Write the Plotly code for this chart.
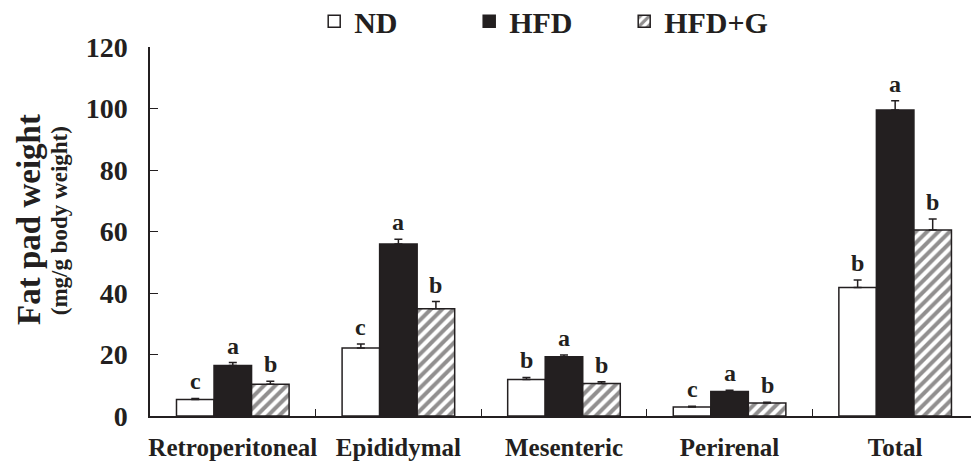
import plotly.graph_objects as go

categories = ["Retroperitoneal", "Epididymal", "Mesenteric", "Perirenal", "Total"]
series_names = ["ND", "HFD", "HFD+G"]
nd_values = [5.4, 22.1, 11.9, 2.9, 41.8]
nd_errors = [0.3, 1.3, 0.65, 0.3, 2.4]
hfd_values = [16.4, 55.9, 19.3, 8.0, 99.5]
hfd_errors = [1.0, 1.6, 0.5, 0.4, 3.0]
hfdg_values = [10.3, 34.9, 10.6, 4.2, 60.5]
hfdg_errors = [1.0, 2.3, 0.5, 0.3, 3.6]
nd_letters = ["c", "c", "b", "c", "b"]
hfd_letters = ["a", "a", "a", "a", "a"]
hfdg_letters = ["b", "b", "b", "b", "b"]
y_ticks = [0, 20, 40, 60, 80, 100, 120]
y_title = "Fat pad weight"
y_subtitle = "(mg/g body weight)"

INK = "#231f20"
FONT = "Liberation Serif"

def err(vals):
    return dict(type="data", array=vals, arrayminus=[0] * len(vals), symmetric=False,
                color=INK, thickness=1.5, width=4)

fig = go.Figure()
fig.add_trace(go.Bar(
    name=series_names[0], x=categories, y=nd_values, error_y=err(nd_errors),
    marker=dict(color="white", line=dict(color=INK, width=1.5)),
))
fig.add_trace(go.Bar(
    name=series_names[1], x=categories, y=hfd_values, error_y=err(hfd_errors),
    marker=dict(color=INK, line=dict(color=INK, width=1.5)),
))
fig.add_trace(go.Bar(
    name=series_names[2], x=categories, y=hfdg_values, error_y=err(hfdg_errors),
    marker=dict(color="white", line=dict(color=INK, width=1.5),
                pattern=dict(shape="/", fgcolor=INK, bgcolor="white", size=8, solidity=0.5)),
))

# significance letters
offsets = [-1, 0, 1]
for k, (vals, errs, letters) in enumerate([(nd_values, nd_errors, nd_letters),
                                            (hfd_values, hfd_errors, hfd_letters),
                                            (hfdg_values, hfdg_errors, hfdg_letters)]):
    for i, cat in enumerate(categories):
        fig.add_annotation(
            x=i + offsets[k] * 0.2267, y=vals[i] + errs[i], xref="x", yref="y",
            text=letters[i], showarrow=False, yanchor="bottom", yshift=2,
            font=dict(family=FONT, size=24, color=INK, weight="bold"),
        )

# y-axis title (two lines, rotated)
fig.add_annotation(
    text=y_title, xref="paper", yref="paper", x=-0.1474, y=0.534,
    xanchor="center", yanchor="middle", textangle=-90, showarrow=False,
    font=dict(family=FONT, size=33, color=INK, weight="bold"),
)
fig.add_annotation(
    text=y_subtitle, xref="paper", yref="paper", x=-0.1108, y=0.528,
    xanchor="center", yanchor="middle", textangle=-90, showarrow=False,
    font=dict(family=FONT, size=23, color=INK, weight="bold"),
)

fig.update_layout(
    width=971, height=466,
    margin=dict(l=150, r=0, t=47, b=50, autoexpand=False),
    paper_bgcolor="white", plot_bgcolor="white",
    barmode="group", bargap=0.32, bargroupgap=0,
    font=dict(family=FONT, color=INK, size=22, weight="bold"),
    legend=dict(orientation="h", x=0.2, xanchor="left",
                y=1.07, yanchor="middle",
                font=dict(family=FONT, size=30, color=INK, weight="bold"),
                itemwidth=30, entrywidth=110, entrywidthmode="pixels",
                bgcolor="rgba(0,0,0,0)"),
    showlegend=True,
)
fig.update_xaxes(
    type="category", range=[-0.5, 4.458],
    showline=True, linecolor=INK, linewidth=1.5,
    ticks="inside", tickson="boundaries", ticklen=7, tickcolor=INK, tickwidth=1,
    tickfont=dict(family=FONT, size=25, color=INK, weight="bold"),
    tickangle=0, ticklabelstandoff=8,
    showgrid=False, zeroline=False,
)
fig.update_yaxes(
    range=[0, 120], tickvals=y_ticks,
    showline=True, linecolor=INK, linewidth=1.5,
    ticks="inside", ticklen=8, tickcolor=INK, tickwidth=1,
    tickfont=dict(family=FONT, size=28, color=INK, weight="bold"),
    ticklabelstandoff=15,
    showgrid=False, zeroline=False,
)

fig.write_html("out.html", config={"displayModeBar": False},
               post_script="document.body.style.margin='0';document.body.style.overflow='hidden';")
